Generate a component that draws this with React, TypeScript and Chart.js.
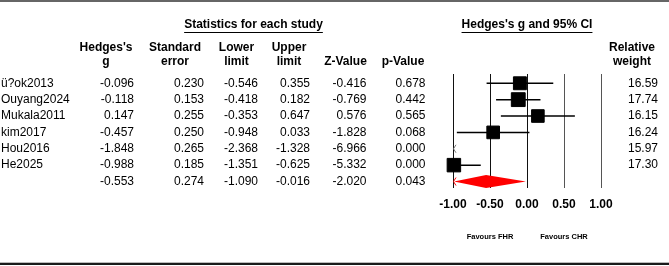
import { useEffect, useRef } from "react";
import { Chart, registerables } from "chart.js";

Chart.register(...registerables);

// Per-study statistics
const studies = ["ü?ok2013", "Ouyang2024", "Mukala2011", "kim2017", "Hou2016", "He2025"];
const hedgesG = [-0.096, -0.118, 0.147, -0.457, -1.848, -0.988];
const stdError = [0.23, 0.153, 0.255, 0.25, 0.265, 0.185];
const lowerLimit = [-0.546, -0.418, -0.353, -0.948, -2.368, -1.351];
const upperLimit = [0.355, 0.182, 0.647, 0.033, -1.328, -0.625];
const zValue = [-0.416, -0.769, 0.576, -1.828, -6.966, -5.332];
const pValue = [0.678, 0.442, 0.565, 0.068, 0.0, 0.0];
const relWeight = [16.59, 17.74, 16.15, 16.24, 15.97, 17.3];

// Pooled (random effects) result
const pooledG = -0.553;
const pooledSE = 0.274;
const pooledLower = -1.09;
const pooledUpper = -0.016;
const pooledZ = -2.02;
const pooledP = 0.043;

// Axis range and tick labels
const xMin = -1;
const xMax = 1;
const xStep = 0.5;
const favourLeft = "Favours FHR";
const favourRight = "Favours CHR";

const FONT = '"Liberation Sans", Arial, sans-serif';

const tablePlugin = {
  id: "forestTable",
  beforeDatasetsDraw(chart: any) {
    const { ctx } = chart;
    const xs = chart.scales.x;
    const ys = chart.scales.y;
    const left = xs.getPixelForValue(xMin);
    ctx.save();
    // truncation chevrons for intervals running past the left limit
    ctx.strokeStyle = "#777";
    ctx.lineWidth = 1;
    studies.forEach((_, i) => {
      if (lowerLimit[i] < xMin) {
        const y = ys.getPixelForValue(i);
        ctx.beginPath();
        ctx.moveTo(left + 3, y - 4);
        ctx.lineTo(left + 0.5, y);
        ctx.lineTo(left + 3, y + 4);
        ctx.stroke();
      }
    });
    ctx.restore();
  },
  afterDatasetsDraw(chart: any) {
    const { ctx, width, height } = chart;
    const xs = chart.scales.x;
    const ys = chart.scales.y;
    ctx.save();

    // frame rules
    ctx.fillStyle = "#666";
    ctx.fillRect(0, 0, width, 2);
    ctx.fillStyle = "#bbb";
    ctx.fillRect(0, 262, width, 1);
    ctx.fillStyle = "#1a1a1a";
    ctx.fillRect(0, 263, width, 2);

    // section titles
    ctx.fillStyle = "#000";
    ctx.strokeStyle = "#000";
    ctx.lineWidth = 1;
    ctx.font = `bold 12px ${FONT}`;
    ctx.textBaseline = "middle";
    ctx.textAlign = "center";
    const titles: [string, number][] = [
      ["Statistics for each study", 253.5],
      ["Hedges's g and 95% CI", 527],
    ];
    titles.forEach(([t, cx]) => {
      ctx.fillText(t, cx, 25);
      const w = ctx.measureText(t).width;
      ctx.beginPath();
      ctx.moveTo(cx - w / 2, 32.5);
      ctx.lineTo(cx + w / 2, 32.5);
      ctx.stroke();
    });

    // column headers
    const heads: [string, string, number][] = [
      ["Hedges's", "g", 106],
      ["Standard", "error", 175],
      ["Lower", "limit", 236.5],
      ["Upper", "limit", 289],
      ["", "Z-Value", 345.5],
      ["", "p-Value", 403],
      ["Relative", "weight", 632],
    ];
    heads.forEach(([a, b, cx]) => {
      if (a) ctx.fillText(a, cx, 47.5);
      ctx.fillText(b, cx, 61.5);
    });

    // table body
    ctx.font = `12px ${FONT}`;
    const colRight = [134, 204, 258, 310, 366.5, 425.5];
    const row = (vals: number[], y: number) => {
      ctx.textAlign = "right";
      vals.forEach((v, k) => ctx.fillText(v.toFixed(3), colRight[k], y));
    };
    studies.forEach((name, i) => {
      const y = ys.getPixelForValue(i);
      ctx.textAlign = "left";
      ctx.fillText(name, 1, y);
      row([hedgesG[i], stdError[i], lowerLimit[i], upperLimit[i], zValue[i], pValue[i]], y);
      ctx.textAlign = "right";
      ctx.fillText(relWeight[i].toFixed(2), 658, y);
    });
    const py = ys.getPixelForValue(studies.length);
    row([pooledG, pooledSE, pooledLower, pooledUpper, pooledZ, pooledP], py);

    // pooled diamond
    const dl = xs.getPixelForValue(Math.max(pooledLower, xMin));
    const dm = xs.getPixelForValue(pooledG);
    const dr = xs.getPixelForValue(Math.min(pooledUpper, xMax));
    ctx.fillStyle = "#ff0000";
    ctx.beginPath();
    ctx.moveTo(dl + 1, py);
    ctx.lineTo(dm, py - 6.5);
    ctx.lineTo(dr, py);
    ctx.lineTo(dm, py + 6.5);
    ctx.closePath();
    ctx.fill();
    if (pooledLower < xMin) {
      const l = xs.getPixelForValue(xMin);
      ctx.strokeStyle = "#ff0000";
      ctx.beginPath();
      ctx.moveTo(l + 3, py - 4);
      ctx.lineTo(l + 0.5, py);
      ctx.lineTo(l + 3, py + 4);
      ctx.stroke();
    }

    // favour captions
    ctx.fillStyle = "#000";
    ctx.font = `bold 7.5px ${FONT}`;
    ctx.textAlign = "center";
    ctx.fillText(favourLeft, xs.getPixelForValue(-0.5), 237);
    ctx.fillText(favourRight, xs.getPixelForValue(0.5), 237);
    ctx.restore();
  },
};

export default function App() {
  const ref = useRef<HTMLCanvasElement | null>(null);

  useEffect(() => {
    if (!ref.current) return;
    const inRange = (v: number) => v >= xMin && v <= xMax;
    const boxRadius = (w: number) => (w * 0.78) / Math.SQRT2;

    const ciSets = studies.map((_, i) => ({
      data: [
        { x: lowerLimit[i], y: i },
        { x: upperLimit[i], y: i },
      ],
      showLine: true,
      borderColor: "#000",
      borderWidth: 1.5,
      pointRadius: 0,
    }));

    const chart = new Chart(ref.current, {
      type: "scatter",
      data: {
        datasets: [
          {
            data: studies.map((_, i) => ({ x: hedgesG[i], y: i })),
            pointStyle: "rect",
            pointRadius: (c: any) =>
              inRange(hedgesG[c.dataIndex]) ? boxRadius(relWeight[c.dataIndex]) : 0,
            backgroundColor: "#000",
            borderColor: "#000",
            borderWidth: 1,
            clip: false,
          } as any,
          ...ciSets,
        ],
      },
      options: {
        responsive: false,
        maintainAspectRatio: false,
        animation: false,
        events: [],
        layout: { padding: { left: 453, right: 68, top: 74, bottom: 45.6 } },
        plugins: { legend: { display: false }, tooltip: { enabled: false } },
        scales: {
          x: {
            type: "linear",
            min: xMin,
            max: xMax,
            border: { display: false },
            grid: {
              color: (c: any) => (c.tick && c.tick.value > 0 ? "#555" : "#111"),
              lineWidth: 1,
              drawTicks: false,
            },
            ticks: {
              stepSize: xStep,
              padding: 9,
              color: "#000",
              font: { family: FONT, size: 12, weight: "bold" },
              callback: (v: any) => Number(v).toFixed(2),
            },
          },
          y: {
            type: "linear",
            display: false,
            reverse: true,
            min: -0.566,
            max: 6.396,
          },
        },
      },
      plugins: [tablePlugin],
    });
    return () => chart.destroy();
  }, []);

  return (
    <div style={{ position: "absolute", left: 0, top: 0, width: 669, height: 266, background: "#fff" }}>
      <canvas ref={ref} width={669} height={266} style={{ display: "block", width: 669, height: 266 }} />
    </div>
  );
}
